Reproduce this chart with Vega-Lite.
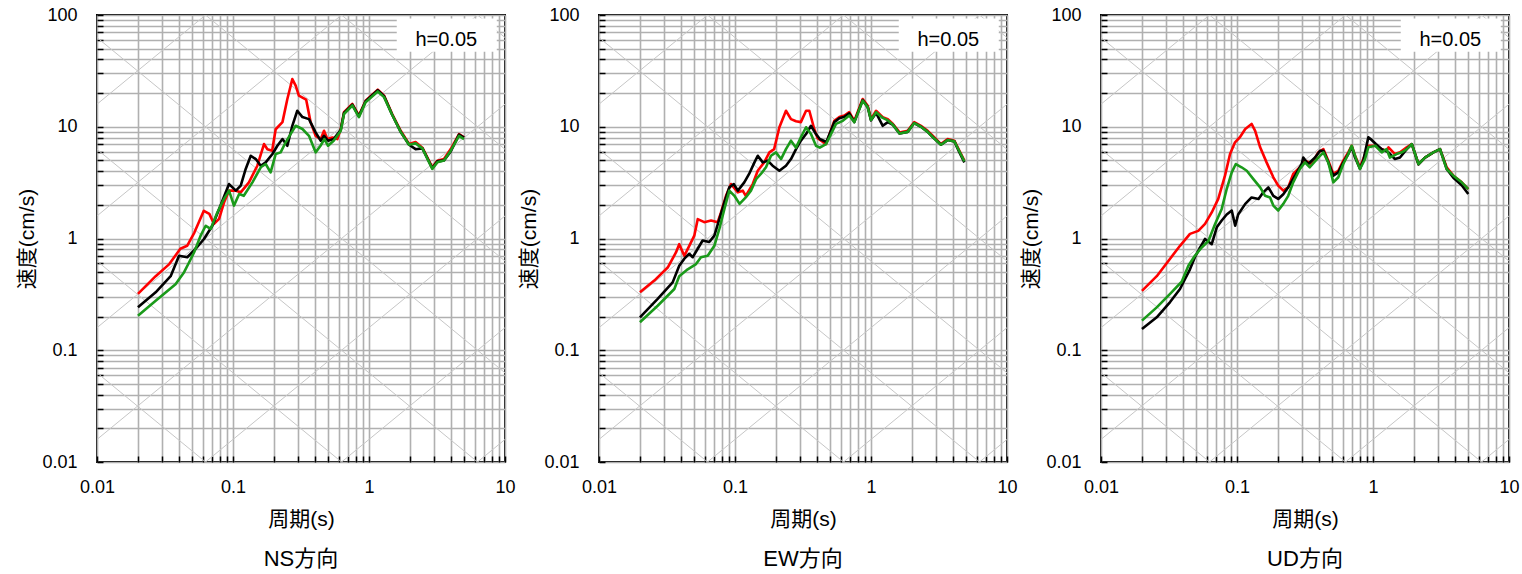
{
"$schema":"https://vega.github.io/schema/vega-lite/v6.json",
"padding":{"left":15,"top":5,"right":0,"bottom":0},
"background":"white",
"config":{
 "view":{"stroke":"black","strokeWidth":2},
 "font":"'Liberation Sans', 'Noto Sans CJK JP'",
 "axis":{"gridColor":"#b0b0b0","gridWidth":1.6,"gridOpacity":1,"domain":false,"tickColor":"black","tickSize":-6,"tickWidth":1.5,"labelFont":"'Liberation Sans', 'Noto Sans CJK JP'","labelFontSize":18,"labelColor":"black","titleFont":"'Liberation Sans', 'Noto Sans CJK JP'","titleFontSize":21,"titleFontWeight":"normal","titleColor":"black","labelOverlap":false,"labelFlush":false},
 "title":{"fontSize":22,"fontWeight":"normal","orient":"bottom","frame":"group","anchor":"middle","offset":20,"font":"'Liberation Sans', 'Noto Sans CJK JP'","color":"black"}
},
"datasets":{
"diag":[
{"id":"a-2","T":0.01,"V":1.592e-5},{"id":"a-2","T":10,"V":0.01592},
{"id":"a-1","T":0.01,"V":1.592e-4},{"id":"a-1","T":10,"V":0.1592},
{"id":"a0","T":0.01,"V":0.001592},{"id":"a0","T":10,"V":1.592},
{"id":"a1","T":0.01,"V":0.01592},{"id":"a1","T":10,"V":15.92},
{"id":"a2","T":0.01,"V":0.1592},{"id":"a2","T":10,"V":159.2},
{"id":"a3","T":0.01,"V":1.592},{"id":"a3","T":10,"V":1592},
{"id":"a4","T":0.01,"V":15.92},{"id":"a4","T":10,"V":15920},
{"id":"d-4","T":0.01,"V":0.06283},{"id":"d-4","T":10,"V":6.283e-5},
{"id":"d-3","T":0.01,"V":0.6283},{"id":"d-3","T":10,"V":6.283e-4},
{"id":"d-2","T":0.01,"V":6.283},{"id":"d-2","T":10,"V":0.006283},
{"id":"d-1","T":0.01,"V":62.83},{"id":"d-1","T":10,"V":0.06283},
{"id":"d0","T":0.01,"V":628.3},{"id":"d0","T":10,"V":0.6283},
{"id":"d1","T":0.01,"V":6283},{"id":"d1","T":10,"V":6.283},
{"id":"d2","T":0.01,"V":62830},{"id":"d2","T":10,"V":62.83}
],
"box":[{"T":1.6,"T2":8.7,"V":47,"V2":93}],
"label":[{"T":3.7,"V":60,"label":"h=0.05"}],
"curves":[
{"p":"NS","s":"r","T":0.02,"V":0.32},{"p":"NS","s":"r","T":0.027,"V":0.46},{"p":"NS","s":"r","T":0.034,"V":0.59},{"p":"NS","s":"r","T":0.041,"V":0.81},{"p":"NS","s":"r","T":0.046,"V":0.86},{"p":"NS","s":"r","T":0.052,"V":1.13},{"p":"NS","s":"r","T":0.061,"V":1.77},{"p":"NS","s":"r","T":0.067,"V":1.66},{"p":"NS","s":"r","T":0.0725,"V":1.35},{"p":"NS","s":"r","T":0.079,"V":1.5},{"p":"NS","s":"r","T":0.086,"V":2.11},{"p":"NS","s":"r","T":0.0935,"V":2.68},{"p":"NS","s":"r","T":0.105,"V":2.68},{"p":"NS","s":"r","T":0.114,"V":2.59},{"p":"NS","s":"r","T":0.131,"V":3.18},{"p":"NS","s":"r","T":0.151,"V":4.48},{"p":"NS","s":"r","T":0.169,"V":7.0},{"p":"NS","s":"r","T":0.179,"V":6.3},{"p":"NS","s":"r","T":0.194,"V":6.1},{"p":"NS","s":"r","T":0.206,"V":9.5},{"p":"NS","s":"r","T":0.231,"V":11.0},{"p":"NS","s":"r","T":0.251,"V":17.7},{"p":"NS","s":"r","T":0.273,"V":26.7},{"p":"NS","s":"r","T":0.289,"V":23.3},{"p":"NS","s":"r","T":0.305,"V":19.0},{"p":"NS","s":"r","T":0.345,"V":17.5},{"p":"NS","s":"r","T":0.372,"V":11.0},{"p":"NS","s":"r","T":0.405,"V":8.3},{"p":"NS","s":"r","T":0.442,"V":7.76},{"p":"NS","s":"r","T":0.467,"V":9.2},{"p":"NS","s":"r","T":0.494,"V":7.76},{"p":"NS","s":"r","T":0.538,"V":8.0},{"p":"NS","s":"r","T":0.585,"V":7.76},{"p":"NS","s":"r","T":0.62,"V":9.55},{"p":"NS","s":"r","T":0.655,"V":13.5},{"p":"NS","s":"r","T":0.754,"V":16.0},{"p":"NS","s":"r","T":0.843,"V":12.6},{"p":"NS","s":"r","T":0.944,"V":17.1},{"p":"NS","s":"r","T":1.16,"V":21.5},{"p":"NS","s":"r","T":1.29,"V":19.0},{"p":"NS","s":"r","T":1.48,"V":13.0},{"p":"NS","s":"r","T":1.71,"V":9.2},{"p":"NS","s":"r","T":1.97,"V":7.0},{"p":"NS","s":"r","T":2.2,"V":7.3},{"p":"NS","s":"r","T":2.47,"V":6.5},{"p":"NS","s":"r","T":2.92,"V":4.34},{"p":"NS","s":"r","T":3.18,"V":4.97},{"p":"NS","s":"r","T":3.56,"V":5.14},{"p":"NS","s":"r","T":3.99,"V":6.32},{"p":"NS","s":"r","T":4.59,"V":8.6},{"p":"NS","s":"r","T":5.0,"V":8.05},
{"p":"NS","s":"k","T":0.02,"V":0.242},{"p":"NS","s":"k","T":0.027,"V":0.33},{"p":"NS","s":"k","T":0.0348,"V":0.46},{"p":"NS","s":"k","T":0.0401,"V":0.70},{"p":"NS","s":"k","T":0.0461,"V":0.68},{"p":"NS","s":"k","T":0.0532,"V":0.81},{"p":"NS","s":"k","T":0.0612,"V":0.99},{"p":"NS","s":"k","T":0.0705,"V":1.30},{"p":"NS","s":"k","T":0.081,"V":1.97},{"p":"NS","s":"k","T":0.0935,"V":3.07},{"p":"NS","s":"k","T":0.105,"V":2.68},{"p":"NS","s":"k","T":0.114,"V":2.97},{"p":"NS","s":"k","T":0.124,"V":4.19},{"p":"NS","s":"k","T":0.135,"V":5.5},{"p":"NS","s":"k","T":0.147,"V":5.14},{"p":"NS","s":"k","T":0.16,"V":4.48},{"p":"NS","s":"k","T":0.174,"V":4.8},{"p":"NS","s":"k","T":0.195,"V":5.7},{"p":"NS","s":"k","T":0.212,"V":6.76},{"p":"NS","s":"k","T":0.231,"V":7.76},{"p":"NS","s":"k","T":0.251,"V":6.76},{"p":"NS","s":"k","T":0.273,"V":10.2},{"p":"NS","s":"k","T":0.297,"V":13.9},{"p":"NS","s":"k","T":0.324,"V":12.2},{"p":"NS","s":"k","T":0.362,"V":11.7},{"p":"NS","s":"k","T":0.405,"V":8.9},{"p":"NS","s":"k","T":0.442,"V":7.5},{"p":"NS","s":"k","T":0.467,"V":8.3},{"p":"NS","s":"k","T":0.5,"V":7.5},{"p":"NS","s":"k","T":0.55,"V":7.76},{"p":"NS","s":"k","T":0.62,"V":9.4},{"p":"NS","s":"k","T":0.655,"V":13.3},{"p":"NS","s":"k","T":0.754,"V":15.8},{"p":"NS","s":"k","T":0.843,"V":12.4},{"p":"NS","s":"k","T":0.944,"V":16.9},{"p":"NS","s":"k","T":1.16,"V":21.2},{"p":"NS","s":"k","T":1.29,"V":18.8},{"p":"NS","s":"k","T":1.48,"V":12.8},{"p":"NS","s":"k","T":1.71,"V":9.0},{"p":"NS","s":"k","T":1.97,"V":6.9},{"p":"NS","s":"k","T":2.2,"V":6.3},{"p":"NS","s":"k","T":2.47,"V":6.4},{"p":"NS","s":"k","T":2.92,"V":4.25},{"p":"NS","s":"k","T":3.18,"V":4.9},{"p":"NS","s":"k","T":3.56,"V":5.0},{"p":"NS","s":"k","T":3.99,"V":6.0},{"p":"NS","s":"k","T":4.59,"V":8.5},{"p":"NS","s":"k","T":5.0,"V":8.0},
{"p":"NS","s":"g","T":0.02,"V":0.204},{"p":"NS","s":"g","T":0.027,"V":0.277},{"p":"NS","s":"g","T":0.0378,"V":0.39},{"p":"NS","s":"g","T":0.0437,"V":0.50},{"p":"NS","s":"g","T":0.0475,"V":0.61},{"p":"NS","s":"g","T":0.0517,"V":0.75},{"p":"NS","s":"g","T":0.0578,"V":1.06},{"p":"NS","s":"g","T":0.063,"V":1.30},{"p":"NS","s":"g","T":0.0686,"V":1.22},{"p":"NS","s":"g","T":0.0767,"V":1.71},{"p":"NS","s":"g","T":0.0859,"V":2.26},{"p":"NS","s":"g","T":0.0935,"V":2.68},{"p":"NS","s":"g","T":0.1016,"V":1.97},{"p":"NS","s":"g","T":0.111,"V":2.5},{"p":"NS","s":"g","T":0.12,"V":2.41},{"p":"NS","s":"g","T":0.139,"V":3.18},{"p":"NS","s":"g","T":0.16,"V":4.34},{"p":"NS","s":"g","T":0.174,"V":4.64},{"p":"NS","s":"g","T":0.189,"V":3.91},{"p":"NS","s":"g","T":0.206,"V":5.7},{"p":"NS","s":"g","T":0.224,"V":5.9},{"p":"NS","s":"g","T":0.244,"V":7.26},{"p":"NS","s":"g","T":0.265,"V":8.6},{"p":"NS","s":"g","T":0.289,"V":10.2},{"p":"NS","s":"g","T":0.324,"V":9.55},{"p":"NS","s":"g","T":0.362,"V":8.3},{"p":"NS","s":"g","T":0.405,"V":5.9},{"p":"NS","s":"g","T":0.44,"V":6.76},{"p":"NS","s":"g","T":0.47,"V":7.76},{"p":"NS","s":"g","T":0.5,"V":6.76},{"p":"NS","s":"g","T":0.55,"V":7.5},{"p":"NS","s":"g","T":0.62,"V":9.2},{"p":"NS","s":"g","T":0.655,"V":13.0},{"p":"NS","s":"g","T":0.754,"V":15.5},{"p":"NS","s":"g","T":0.843,"V":12.2},{"p":"NS","s":"g","T":0.944,"V":16.6},{"p":"NS","s":"g","T":1.16,"V":20.7},{"p":"NS","s":"g","T":1.29,"V":18.4},{"p":"NS","s":"g","T":1.48,"V":12.8},{"p":"NS","s":"g","T":1.71,"V":9.0},{"p":"NS","s":"g","T":1.97,"V":6.9},{"p":"NS","s":"g","T":2.2,"V":7.1},{"p":"NS","s":"g","T":2.47,"V":6.4},{"p":"NS","s":"g","T":2.92,"V":4.2},{"p":"NS","s":"g","T":3.18,"V":4.8},{"p":"NS","s":"g","T":3.56,"V":5.0},{"p":"NS","s":"g","T":3.99,"V":6.1},{"p":"NS","s":"g","T":4.59,"V":8.3},{"p":"NS","s":"g","T":5.0,"V":7.76},
{"p":"EW","s":"r","T":0.02,"V":0.33},{"p":"EW","s":"r","T":0.0255,"V":0.42},{"p":"EW","s":"r","T":0.032,"V":0.55},{"p":"EW","s":"r","T":0.0368,"V":0.75},{"p":"EW","s":"r","T":0.0389,"V":0.89},{"p":"EW","s":"r","T":0.0424,"V":0.70},{"p":"EW","s":"r","T":0.0461,"V":0.86},{"p":"EW","s":"r","T":0.0502,"V":1.06},{"p":"EW","s":"r","T":0.0532,"V":1.49},{"p":"EW","s":"r","T":0.0594,"V":1.40},{"p":"EW","s":"r","T":0.0667,"V":1.45},{"p":"EW","s":"r","T":0.0746,"V":1.40},{"p":"EW","s":"r","T":0.0789,"V":1.71},{"p":"EW","s":"r","T":0.0859,"V":2.41},{"p":"EW","s":"r","T":0.0935,"V":3.07},{"p":"EW","s":"r","T":0.105,"V":2.59},{"p":"EW","s":"r","T":0.114,"V":2.68},{"p":"EW","s":"r","T":0.12,"V":2.41},{"p":"EW","s":"r","T":0.135,"V":3.07},{"p":"EW","s":"r","T":0.147,"V":4.04},{"p":"EW","s":"r","T":0.164,"V":4.8},{"p":"EW","s":"r","T":0.179,"V":5.9},{"p":"EW","s":"r","T":0.194,"V":6.3},{"p":"EW","s":"r","T":0.212,"V":9.9},{"p":"EW","s":"r","T":0.237,"V":13.9},{"p":"EW","s":"r","T":0.258,"V":11.7},{"p":"EW","s":"r","T":0.281,"V":11.2},{"p":"EW","s":"r","T":0.305,"V":11.0},{"p":"EW","s":"r","T":0.333,"V":13.9},{"p":"EW","s":"r","T":0.352,"V":13.9},{"p":"EW","s":"r","T":0.383,"V":9.5},{"p":"EW","s":"r","T":0.405,"V":7.9},{"p":"EW","s":"r","T":0.467,"V":7.0},{"p":"EW","s":"r","T":0.537,"V":11.3},{"p":"EW","s":"r","T":0.585,"V":12.2},{"p":"EW","s":"r","T":0.637,"V":12.6},{"p":"EW","s":"r","T":0.692,"V":13.5},{"p":"EW","s":"r","T":0.754,"V":11.3},{"p":"EW","s":"r","T":0.869,"V":17.7},{"p":"EW","s":"r","T":0.946,"V":15.4},{"p":"EW","s":"r","T":1.0,"V":11.7},{"p":"EW","s":"r","T":1.09,"V":13.9},{"p":"EW","s":"r","T":1.22,"V":12.2},{"p":"EW","s":"r","T":1.33,"V":11.7},{"p":"EW","s":"r","T":1.45,"V":10.6},{"p":"EW","s":"r","T":1.62,"V":8.9},{"p":"EW","s":"r","T":1.86,"V":9.2},{"p":"EW","s":"r","T":2.08,"V":11.0},{"p":"EW","s":"r","T":2.33,"V":10.2},{"p":"EW","s":"r","T":2.61,"V":9.2},{"p":"EW","s":"r","T":2.84,"V":8.3},{"p":"EW","s":"r","T":3.27,"V":7.0},{"p":"EW","s":"r","T":3.66,"V":7.76},{"p":"EW","s":"r","T":4.1,"V":7.5},{"p":"EW","s":"r","T":4.47,"V":6.1},{"p":"EW","s":"r","T":4.86,"V":4.97},
{"p":"EW","s":"k","T":0.02,"V":0.197},{"p":"EW","s":"k","T":0.027,"V":0.288},{"p":"EW","s":"k","T":0.0348,"V":0.405},{"p":"EW","s":"k","T":0.0389,"V":0.57},{"p":"EW","s":"k","T":0.0424,"V":0.66},{"p":"EW","s":"k","T":0.0461,"V":0.73},{"p":"EW","s":"k","T":0.0489,"V":0.68},{"p":"EW","s":"k","T":0.0532,"V":0.81},{"p":"EW","s":"k","T":0.0578,"V":0.96},{"p":"EW","s":"k","T":0.0647,"V":0.93},{"p":"EW","s":"k","T":0.0705,"V":1.06},{"p":"EW","s":"k","T":0.0767,"V":1.49},{"p":"EW","s":"k","T":0.0836,"V":2.11},{"p":"EW","s":"k","T":0.0908,"V":2.87},{"p":"EW","s":"k","T":0.098,"V":3.07},{"p":"EW","s":"k","T":0.105,"V":2.68},{"p":"EW","s":"k","T":0.117,"V":3.18},{"p":"EW","s":"k","T":0.127,"V":3.78},{"p":"EW","s":"k","T":0.139,"V":4.8},{"p":"EW","s":"k","T":0.147,"V":5.5},{"p":"EW","s":"k","T":0.16,"V":4.8},{"p":"EW","s":"k","T":0.174,"V":4.97},{"p":"EW","s":"k","T":0.189,"V":4.48},{"p":"EW","s":"k","T":0.212,"V":4.04},{"p":"EW","s":"k","T":0.237,"V":4.48},{"p":"EW","s":"k","T":0.258,"V":5.14},{"p":"EW","s":"k","T":0.281,"V":6.3},{"p":"EW","s":"k","T":0.305,"V":7.5},{"p":"EW","s":"k","T":0.333,"V":8.6},{"p":"EW","s":"k","T":0.362,"V":10.2},{"p":"EW","s":"k","T":0.394,"V":8.6},{"p":"EW","s":"k","T":0.42,"V":7.76},{"p":"EW","s":"k","T":0.47,"V":7.3},{"p":"EW","s":"k","T":0.537,"V":11.0},{"p":"EW","s":"k","T":0.585,"V":11.9},{"p":"EW","s":"k","T":0.637,"V":12.3},{"p":"EW","s":"k","T":0.692,"V":13.2},{"p":"EW","s":"k","T":0.754,"V":11.0},{"p":"EW","s":"k","T":0.869,"V":17.3},{"p":"EW","s":"k","T":0.946,"V":15.0},{"p":"EW","s":"k","T":1.0,"V":11.4},{"p":"EW","s":"k","T":1.09,"V":13.3},{"p":"EW","s":"k","T":1.22,"V":10.2},{"p":"EW","s":"k","T":1.33,"V":11.0},{"p":"EW","s":"k","T":1.45,"V":10.4},{"p":"EW","s":"k","T":1.62,"V":8.7},{"p":"EW","s":"k","T":1.86,"V":9.0},{"p":"EW","s":"k","T":2.08,"V":10.8},{"p":"EW","s":"k","T":2.33,"V":10.0},{"p":"EW","s":"k","T":2.61,"V":9.0},{"p":"EW","s":"k","T":2.84,"V":8.1},{"p":"EW","s":"k","T":3.27,"V":6.9},{"p":"EW","s":"k","T":3.66,"V":7.6},{"p":"EW","s":"k","T":4.1,"V":7.4},{"p":"EW","s":"k","T":4.47,"V":5.9},{"p":"EW","s":"k","T":4.86,"V":4.8},
{"p":"EW","s":"g","T":0.02,"V":0.178},{"p":"EW","s":"g","T":0.027,"V":0.25},{"p":"EW","s":"g","T":0.0358,"V":0.353},{"p":"EW","s":"g","T":0.0389,"V":0.46},{"p":"EW","s":"g","T":0.0449,"V":0.53},{"p":"EW","s":"g","T":0.0517,"V":0.59},{"p":"EW","s":"g","T":0.0562,"V":0.68},{"p":"EW","s":"g","T":0.063,"V":0.70},{"p":"EW","s":"g","T":0.0705,"V":0.86},{"p":"EW","s":"g","T":0.0767,"V":1.22},{"p":"EW","s":"g","T":0.0836,"V":1.84},{"p":"EW","s":"g","T":0.0908,"V":2.68},{"p":"EW","s":"g","T":0.099,"V":2.41},{"p":"EW","s":"g","T":0.108,"V":2.04},{"p":"EW","s":"g","T":0.12,"V":2.33},{"p":"EW","s":"g","T":0.131,"V":2.68},{"p":"EW","s":"g","T":0.143,"V":3.4},{"p":"EW","s":"g","T":0.155,"V":3.78},{"p":"EW","s":"g","T":0.169,"V":4.34},{"p":"EW","s":"g","T":0.184,"V":5.5},{"p":"EW","s":"g","T":0.2,"V":5.9},{"p":"EW","s":"g","T":0.218,"V":5.14},{"p":"EW","s":"g","T":0.237,"V":6.3},{"p":"EW","s":"g","T":0.258,"V":7.5},{"p":"EW","s":"g","T":0.281,"V":6.5},{"p":"EW","s":"g","T":0.305,"V":8.05},{"p":"EW","s":"g","T":0.333,"V":9.9},{"p":"EW","s":"g","T":0.362,"V":8.6},{"p":"EW","s":"g","T":0.394,"V":6.76},{"p":"EW","s":"g","T":0.42,"V":6.5},{"p":"EW","s":"g","T":0.467,"V":7.0},{"p":"EW","s":"g","T":0.508,"V":8.6},{"p":"EW","s":"g","T":0.553,"V":10.6},{"p":"EW","s":"g","T":0.62,"V":11.3},{"p":"EW","s":"g","T":0.692,"V":12.6},{"p":"EW","s":"g","T":0.754,"V":11.0},{"p":"EW","s":"g","T":0.869,"V":17.1},{"p":"EW","s":"g","T":0.946,"V":15.0},{"p":"EW","s":"g","T":1.0,"V":11.5},{"p":"EW","s":"g","T":1.09,"V":13.5},{"p":"EW","s":"g","T":1.22,"V":12.0},{"p":"EW","s":"g","T":1.33,"V":11.4},{"p":"EW","s":"g","T":1.45,"V":10.4},{"p":"EW","s":"g","T":1.62,"V":8.7},{"p":"EW","s":"g","T":1.86,"V":9.0},{"p":"EW","s":"g","T":2.08,"V":10.8},{"p":"EW","s":"g","T":2.33,"V":10.0},{"p":"EW","s":"g","T":2.61,"V":9.0},{"p":"EW","s":"g","T":2.84,"V":8.1},{"p":"EW","s":"g","T":3.27,"V":6.9},{"p":"EW","s":"g","T":3.66,"V":7.6},{"p":"EW","s":"g","T":4.1,"V":7.4},{"p":"EW","s":"g","T":4.47,"V":6.0},{"p":"EW","s":"g","T":4.86,"V":4.9},
{"p":"UD","s":"r","T":0.02,"V":0.34},{"p":"UD","s":"r","T":0.0257,"V":0.46},{"p":"UD","s":"r","T":0.0322,"V":0.66},{"p":"UD","s":"r","T":0.0381,"V":0.86},{"p":"UD","s":"r","T":0.0451,"V":1.10},{"p":"UD","s":"r","T":0.0519,"V":1.17},{"p":"UD","s":"r","T":0.0582,"V":1.35},{"p":"UD","s":"r","T":0.0652,"V":1.71},{"p":"UD","s":"r","T":0.0728,"V":2.26},{"p":"UD","s":"r","T":0.0816,"V":3.65},{"p":"UD","s":"r","T":0.0889,"V":5.7},{"p":"UD","s":"r","T":0.0967,"V":7.26},{"p":"UD","s":"r","T":0.105,"V":8.05},{"p":"UD","s":"r","T":0.115,"V":9.55},{"p":"UD","s":"r","T":0.128,"V":10.6},{"p":"UD","s":"r","T":0.136,"V":9.2},{"p":"UD","s":"r","T":0.148,"V":6.55},{"p":"UD","s":"r","T":0.165,"V":4.8},{"p":"UD","s":"r","T":0.185,"V":3.53},{"p":"UD","s":"r","T":0.201,"V":2.97},{"p":"UD","s":"r","T":0.219,"V":2.68},{"p":"UD","s":"r","T":0.238,"V":2.87},{"p":"UD","s":"r","T":0.259,"V":3.78},{"p":"UD","s":"r","T":0.29,"V":4.34},{"p":"UD","s":"r","T":0.316,"V":4.97},{"p":"UD","s":"r","T":0.354,"V":4.64},{"p":"UD","s":"r","T":0.396,"V":5.9},{"p":"UD","s":"r","T":0.432,"V":6.3},{"p":"UD","s":"r","T":0.469,"V":4.97},{"p":"UD","s":"r","T":0.511,"V":3.78},{"p":"UD","s":"r","T":0.556,"V":4.04},{"p":"UD","s":"r","T":0.605,"V":4.97},{"p":"UD","s":"r","T":0.658,"V":5.9},{"p":"UD","s":"r","T":0.697,"V":6.76},{"p":"UD","s":"r","T":0.738,"V":5.5},{"p":"UD","s":"r","T":0.802,"V":4.34},{"p":"UD","s":"r","T":0.849,"V":5.14},{"p":"UD","s":"r","T":0.924,"V":6.76},{"p":"UD","s":"r","T":1.04,"V":6.76},{"p":"UD","s":"r","T":1.16,"V":6.3},{"p":"UD","s":"r","T":1.26,"V":6.1},{"p":"UD","s":"r","T":1.3,"V":6.55},{"p":"UD","s":"r","T":1.45,"V":5.7},{"p":"UD","s":"r","T":1.58,"V":5.9},{"p":"UD","s":"r","T":1.77,"V":6.55},{"p":"UD","s":"r","T":1.93,"V":7.0},{"p":"UD","s":"r","T":2.16,"V":4.64},{"p":"UD","s":"r","T":2.41,"V":5.3},{"p":"UD","s":"r","T":2.78,"V":5.9},{"p":"UD","s":"r","T":3.11,"V":6.3},{"p":"UD","s":"r","T":3.48,"V":4.34},{"p":"UD","s":"r","T":3.9,"V":3.65},{"p":"UD","s":"r","T":4.49,"V":3.18},{"p":"UD","s":"r","T":5.02,"V":2.77},
{"p":"UD","s":"k","T":0.02,"V":0.155},{"p":"UD","s":"k","T":0.0257,"V":0.197},{"p":"UD","s":"k","T":0.0322,"V":0.27},{"p":"UD","s":"k","T":0.0381,"V":0.353},{"p":"UD","s":"k","T":0.0415,"V":0.435},{"p":"UD","s":"k","T":0.0451,"V":0.53},{"p":"UD","s":"k","T":0.049,"V":0.68},{"p":"UD","s":"k","T":0.0535,"V":0.83},{"p":"UD","s":"k","T":0.0582,"V":0.99},{"p":"UD","s":"k","T":0.0652,"V":0.89},{"p":"UD","s":"k","T":0.071,"V":1.26},{"p":"UD","s":"k","T":0.0772,"V":1.45},{"p":"UD","s":"k","T":0.084,"V":1.64},{"p":"UD","s":"k","T":0.0915,"V":1.78},{"p":"UD","s":"k","T":0.097,"V":1.30},{"p":"UD","s":"k","T":0.102,"V":1.64},{"p":"UD","s":"k","T":0.115,"V":2.04},{"p":"UD","s":"k","T":0.128,"V":2.33},{"p":"UD","s":"k","T":0.144,"V":2.26},{"p":"UD","s":"k","T":0.156,"V":2.59},{"p":"UD","s":"k","T":0.17,"V":2.87},{"p":"UD","s":"k","T":0.185,"V":2.41},{"p":"UD","s":"k","T":0.201,"V":2.26},{"p":"UD","s":"k","T":0.219,"V":2.49},{"p":"UD","s":"k","T":0.238,"V":2.87},{"p":"UD","s":"k","T":0.267,"V":3.65},{"p":"UD","s":"k","T":0.299,"V":4.64},{"p":"UD","s":"k","T":0.307,"V":5.3},{"p":"UD","s":"k","T":0.334,"V":4.64},{"p":"UD","s":"k","T":0.375,"V":5.3},{"p":"UD","s":"k","T":0.408,"V":6.1},{"p":"UD","s":"k","T":0.432,"V":6.1},{"p":"UD","s":"k","T":0.469,"V":4.8},{"p":"UD","s":"k","T":0.511,"V":3.65},{"p":"UD","s":"k","T":0.556,"V":3.9},{"p":"UD","s":"k","T":0.605,"V":4.8},{"p":"UD","s":"k","T":0.658,"V":5.7},{"p":"UD","s":"k","T":0.697,"V":6.6},{"p":"UD","s":"k","T":0.738,"V":5.3},{"p":"UD","s":"k","T":0.802,"V":4.2},{"p":"UD","s":"k","T":0.849,"V":5.0},{"p":"UD","s":"k","T":0.924,"V":8.05},{"p":"UD","s":"k","T":0.96,"V":7.76},{"p":"UD","s":"k","T":1.05,"V":7.0},{"p":"UD","s":"k","T":1.16,"V":6.3},{"p":"UD","s":"k","T":1.3,"V":5.9},{"p":"UD","s":"k","T":1.45,"V":5.14},{"p":"UD","s":"k","T":1.58,"V":5.3},{"p":"UD","s":"k","T":1.77,"V":6.3},{"p":"UD","s":"k","T":1.93,"V":7.0},{"p":"UD","s":"k","T":2.16,"V":4.6},{"p":"UD","s":"k","T":2.41,"V":5.3},{"p":"UD","s":"k","T":2.78,"V":5.9},{"p":"UD","s":"k","T":3.11,"V":6.3},{"p":"UD","s":"k","T":3.48,"V":4.2},{"p":"UD","s":"k","T":3.9,"V":3.5},{"p":"UD","s":"k","T":4.49,"V":3.0},{"p":"UD","s":"k","T":5.02,"V":2.5},
{"p":"UD","s":"g","T":0.02,"V":0.184},{"p":"UD","s":"g","T":0.0257,"V":0.242},{"p":"UD","s":"g","T":0.0322,"V":0.32},{"p":"UD","s":"g","T":0.0392,"V":0.41},{"p":"UD","s":"g","T":0.0439,"V":0.57},{"p":"UD","s":"g","T":0.049,"V":0.70},{"p":"UD","s":"g","T":0.055,"V":0.83},{"p":"UD","s":"g","T":0.0616,"V":0.95},{"p":"UD","s":"g","T":0.069,"V":1.35},{"p":"UD","s":"g","T":0.0772,"V":1.84},{"p":"UD","s":"g","T":0.084,"V":2.77},{"p":"UD","s":"g","T":0.0915,"V":3.91},{"p":"UD","s":"g","T":0.098,"V":4.64},{"p":"UD","s":"g","T":0.108,"V":4.34},{"p":"UD","s":"g","T":0.118,"V":4.04},{"p":"UD","s":"g","T":0.132,"V":3.4},{"p":"UD","s":"g","T":0.148,"V":2.87},{"p":"UD","s":"g","T":0.161,"V":2.41},{"p":"UD","s":"g","T":0.175,"V":2.33},{"p":"UD","s":"g","T":0.185,"V":1.97},{"p":"UD","s":"g","T":0.201,"V":1.78},{"p":"UD","s":"g","T":0.219,"V":2.04},{"p":"UD","s":"g","T":0.238,"V":2.41},{"p":"UD","s":"g","T":0.259,"V":3.18},{"p":"UD","s":"g","T":0.29,"V":4.19},{"p":"UD","s":"g","T":0.316,"V":4.8},{"p":"UD","s":"g","T":0.343,"V":4.34},{"p":"UD","s":"g","T":0.396,"V":5.3},{"p":"UD","s":"g","T":0.432,"V":5.9},{"p":"UD","s":"g","T":0.469,"V":4.8},{"p":"UD","s":"g","T":0.511,"V":3.18},{"p":"UD","s":"g","T":0.556,"V":3.53},{"p":"UD","s":"g","T":0.605,"V":4.64},{"p":"UD","s":"g","T":0.658,"V":5.7},{"p":"UD","s":"g","T":0.697,"V":6.76},{"p":"UD","s":"g","T":0.759,"V":4.97},{"p":"UD","s":"g","T":0.802,"V":4.19},{"p":"UD","s":"g","T":0.873,"V":5.14},{"p":"UD","s":"g","T":0.924,"V":6.55},{"p":"UD","s":"g","T":1.04,"V":6.76},{"p":"UD","s":"g","T":1.16,"V":5.9},{"p":"UD","s":"g","T":1.26,"V":6.3},{"p":"UD","s":"g","T":1.33,"V":5.3},{"p":"UD","s":"g","T":1.49,"V":5.7},{"p":"UD","s":"g","T":1.63,"V":5.9},{"p":"UD","s":"g","T":1.77,"V":6.3},{"p":"UD","s":"g","T":1.93,"V":7.0},{"p":"UD","s":"g","T":2.16,"V":4.64},{"p":"UD","s":"g","T":2.41,"V":5.3},{"p":"UD","s":"g","T":2.78,"V":5.9},{"p":"UD","s":"g","T":3.11,"V":6.3},{"p":"UD","s":"g","T":3.48,"V":4.19},{"p":"UD","s":"g","T":3.9,"V":3.65},{"p":"UD","s":"g","T":4.49,"V":3.18},{"p":"UD","s":"g","T":5.02,"V":2.77}
]
},
"spacing":94,
"bounds":"flush",
"hconcat":[
{"width":408,"height":447,"title":{"text":"NS方向"},
 "encoding":{"x":{"field":"T","type":"quantitative","scale":{"type":"log","domain":[0.01,10],"nice":false},"axis":{"values":[0.01,0.02,0.03,0.04,0.05,0.06,0.07,0.08,0.09,0.1,0.2,0.3,0.4,0.5,0.6,0.7,0.8,0.9,1,2,3,4,5,6,7,8,9,10],"format":"~g","labelExpr":"datum.value==0.01||datum.value==0.1||datum.value==1||datum.value==10?datum.label:''","title":"周期(s)","titleY":57,"titleBaseline":"middle","labelPadding":22}},
  "y":{"field":"V","type":"quantitative","scale":{"type":"log","domain":[0.01,100],"nice":false},"axis":{"values":[0.01,0.02,0.03,0.04,0.05,0.06,0.07,0.08,0.09,0.1,0.2,0.3,0.4,0.5,0.6,0.7,0.8,0.9,1,2,3,4,5,6,7,8,9,10,20,30,40,50,60,70,80,90,100],"format":"~g","labelExpr":"datum.value==0.01||datum.value==0.1||datum.value==1||datum.value==10||datum.value==100?datum.label:''","title":"速度(cm/s)","titleX":-70,"titleBaseline":"middle","labelPadding":26}}},
 "layer":[
  {"data":{"name":"diag"},"mark":{"type":"line","clip":true,"color":"#c6c6c6","strokeWidth":1},"encoding":{"detail":{"field":"id"}}},
  {"data":{"name":"curves"},"transform":[{"filter":"datum.p=='NS'"}],"mark":{"type":"line","strokeWidth":2.6,"strokeJoin":"round"},
   "encoding":{"color":{"field":"s","type":"nominal","scale":{"domain":["r","k","g"],"range":["#ff0000","#000000","#1a9a1a"]},"legend":null}}},
  {"data":{"name":"box"},"mark":{"type":"rect","color":"white"},"encoding":{"x2":{"field":"T2"},"y2":{"field":"V2"}}},
  {"data":{"name":"label"},"mark":{"type":"text","fontSize":20,"color":"black","baseline":"middle","font":"'Liberation Sans'"},"encoding":{"text":{"field":"label"}}}
 ]},
{"width":408,"height":447,"title":{"text":"EW方向"},
 "encoding":{"x":{"field":"T","type":"quantitative","scale":{"type":"log","domain":[0.01,10],"nice":false},"axis":{"values":[0.01,0.02,0.03,0.04,0.05,0.06,0.07,0.08,0.09,0.1,0.2,0.3,0.4,0.5,0.6,0.7,0.8,0.9,1,2,3,4,5,6,7,8,9,10],"format":"~g","labelExpr":"datum.value==0.01||datum.value==0.1||datum.value==1||datum.value==10?datum.label:''","title":"周期(s)","titleY":57,"titleBaseline":"middle","labelPadding":22}},
  "y":{"field":"V","type":"quantitative","scale":{"type":"log","domain":[0.01,100],"nice":false},"axis":{"values":[0.01,0.02,0.03,0.04,0.05,0.06,0.07,0.08,0.09,0.1,0.2,0.3,0.4,0.5,0.6,0.7,0.8,0.9,1,2,3,4,5,6,7,8,9,10,20,30,40,50,60,70,80,90,100],"format":"~g","labelExpr":"datum.value==0.01||datum.value==0.1||datum.value==1||datum.value==10||datum.value==100?datum.label:''","title":"速度(cm/s)","titleX":-70,"titleBaseline":"middle","labelPadding":26}}},
 "layer":[
  {"data":{"name":"diag"},"mark":{"type":"line","clip":true,"color":"#c6c6c6","strokeWidth":1},"encoding":{"detail":{"field":"id"}}},
  {"data":{"name":"curves"},"transform":[{"filter":"datum.p=='EW'"}],"mark":{"type":"line","strokeWidth":2.6,"strokeJoin":"round"},
   "encoding":{"color":{"field":"s","type":"nominal","scale":{"domain":["r","k","g"],"range":["#ff0000","#000000","#1a9a1a"]},"legend":null}}},
  {"data":{"name":"box"},"mark":{"type":"rect","color":"white"},"encoding":{"x2":{"field":"T2"},"y2":{"field":"V2"}}},
  {"data":{"name":"label"},"mark":{"type":"text","fontSize":20,"color":"black","baseline":"middle","font":"'Liberation Sans'"},"encoding":{"text":{"field":"label"}}}
 ]},
{"width":408,"height":447,"title":{"text":"UD方向"},
 "encoding":{"x":{"field":"T","type":"quantitative","scale":{"type":"log","domain":[0.01,10],"nice":false},"axis":{"values":[0.01,0.02,0.03,0.04,0.05,0.06,0.07,0.08,0.09,0.1,0.2,0.3,0.4,0.5,0.6,0.7,0.8,0.9,1,2,3,4,5,6,7,8,9,10],"format":"~g","labelExpr":"datum.value==0.01||datum.value==0.1||datum.value==1||datum.value==10?datum.label:''","title":"周期(s)","titleY":57,"titleBaseline":"middle","labelPadding":22}},
  "y":{"field":"V","type":"quantitative","scale":{"type":"log","domain":[0.01,100],"nice":false},"axis":{"values":[0.01,0.02,0.03,0.04,0.05,0.06,0.07,0.08,0.09,0.1,0.2,0.3,0.4,0.5,0.6,0.7,0.8,0.9,1,2,3,4,5,6,7,8,9,10,20,30,40,50,60,70,80,90,100],"format":"~g","labelExpr":"datum.value==0.01||datum.value==0.1||datum.value==1||datum.value==10||datum.value==100?datum.label:''","title":"速度(cm/s)","titleX":-70,"titleBaseline":"middle","labelPadding":26}}},
 "layer":[
  {"data":{"name":"diag"},"mark":{"type":"line","clip":true,"color":"#c6c6c6","strokeWidth":1},"encoding":{"detail":{"field":"id"}}},
  {"data":{"name":"curves"},"transform":[{"filter":"datum.p=='UD'"}],"mark":{"type":"line","strokeWidth":2.6,"strokeJoin":"round"},
   "encoding":{"color":{"field":"s","type":"nominal","scale":{"domain":["r","k","g"],"range":["#ff0000","#000000","#1a9a1a"]},"legend":null}}},
  {"data":{"name":"box"},"mark":{"type":"rect","color":"white"},"encoding":{"x2":{"field":"T2"},"y2":{"field":"V2"}}},
  {"data":{"name":"label"},"mark":{"type":"text","fontSize":20,"color":"black","baseline":"middle","font":"'Liberation Sans'"},"encoding":{"text":{"field":"label"}}}
 ]}
]
}
